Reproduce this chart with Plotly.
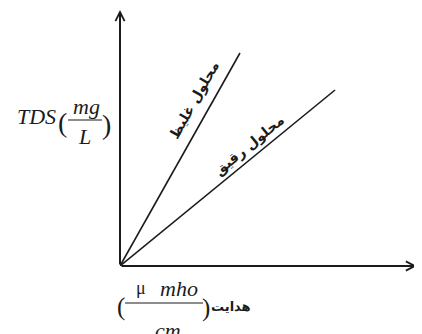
import plotly.graph_objects as go

# data (arbitrary units: conductivity vs TDS)
conductivity_conc = [0, 4.04]
tds_conc = [0, 8.32]
conductivity_dil = [0, 7.24]
tds_dil = [0, 6.875]
label_conc = "محلول غلیظ"
label_dil = "محلول رقیق"
x_unit_label = "هدایت"

OFF = 8  # page body margin
W, H = 422 - OFF, 334 - OFF
L, R, T, B = 120 - OFF, 5, 10 - OFF, 68
PW, PH = W - L - R, H - T - B
XMAX, YMAX = 10, 10


def pp(xp, yp):
    """reference pixel -> paper coords"""
    return ((xp - OFF - L) / PW, (H - B - (yp - OFF)) / PH)


INK = "#1b1b1b"
SERIF = "Liberation Serif, Times New Roman, serif"
AR = "DejaVu Sans"

fig = go.Figure()
fig.add_trace(go.Scatter(x=conductivity_conc, y=tds_conc, mode="lines",
                         line=dict(color=INK, width=1.6), hoverinfo="skip"))
fig.add_trace(go.Scatter(x=conductivity_dil, y=tds_dil, mode="lines",
                         line=dict(color=INK, width=1.6), hoverinfo="skip"))

ann = []
# axis arrows
ann.append(dict(x=XMAX, y=0, ax=0, ay=0, xref="x", yref="y", axref="x", ayref="y",
                text="", showarrow=True, arrowhead=5, arrowsize=0.9, arrowwidth=2,
                arrowcolor=INK, standoff=0, startstandoff=0))
ann.append(dict(x=0, y=YMAX, ax=0, ay=0, xref="x", yref="y", axref="x", ayref="y",
                text="", showarrow=True, arrowhead=5, arrowsize=0.9, arrowwidth=2,
                arrowcolor=INK, standoff=0, startstandoff=0))


def txt(t, xp, yp, size, family=SERIF, angle=0, xanchor="center", yanchor="middle",
        italic=False, weight="normal"):
    x, y = pp(xp, yp)
    ann.append(dict(x=x, y=y, xref="paper", yref="paper", text=t, showarrow=False,
                    textangle=angle, xanchor=xanchor, yanchor=yanchor,
                    font=dict(family=family, size=size, color=INK,
                              style="italic" if italic else "normal", weight=weight)))


# line labels
txt(label_conc, 194, 100, 14, family=AR, angle=-60.6, weight="bold")
txt(label_dil, 249, 145, 14, family=AR, angle=-39.3, weight="bold")

# y label TDS(mg/L)
txt("TDS", 58, 116, 22, xanchor="right", italic=True)
txt("(", 62, 122, 28)
txt("mg", 86, 106, 22, italic=True)
txt("L", 84, 136, 22, italic=True)
txt(")", 106, 124, 28)

# x label (μ mho / cm) هدایت
txt("(", 121, 307, 25)
txt("μ", 141, 288, 18)
txt("mho", 179, 288, 22, italic=True)
txt("cm", 168, 330, 22, italic=True)
txt(")", 206, 308, 25)
txt(x_unit_label, 231, 306, 13, family=AR, weight="bold")

# stray glyph at the right edge
txt("ب", 412, 118, 20, family=AR, xanchor="left", weight="bold")

shapes = []
for (x0p, x1p, yp) in [(68, 102, 120), (125, 203, 303)]:
    a0, b0 = pp(x0p, yp)
    a1, _ = pp(x1p, yp)
    shapes.append(dict(type="line", xref="paper", yref="paper", x0=a0, x1=a1, y0=b0, y1=b0,
                       line=dict(color=INK, width=1.2)))

fig.update_layout(
    width=W, height=H, margin=dict(l=L, r=R, t=T, b=B),
    paper_bgcolor="white", plot_bgcolor="white", showlegend=False,
    xaxis=dict(range=[0, XMAX], visible=False, fixedrange=True),
    yaxis=dict(range=[0, YMAX], visible=False, fixedrange=True),
    annotations=ann, shapes=shapes,
)
fig.write_html("out.html", config={"displayModeBar": False})
